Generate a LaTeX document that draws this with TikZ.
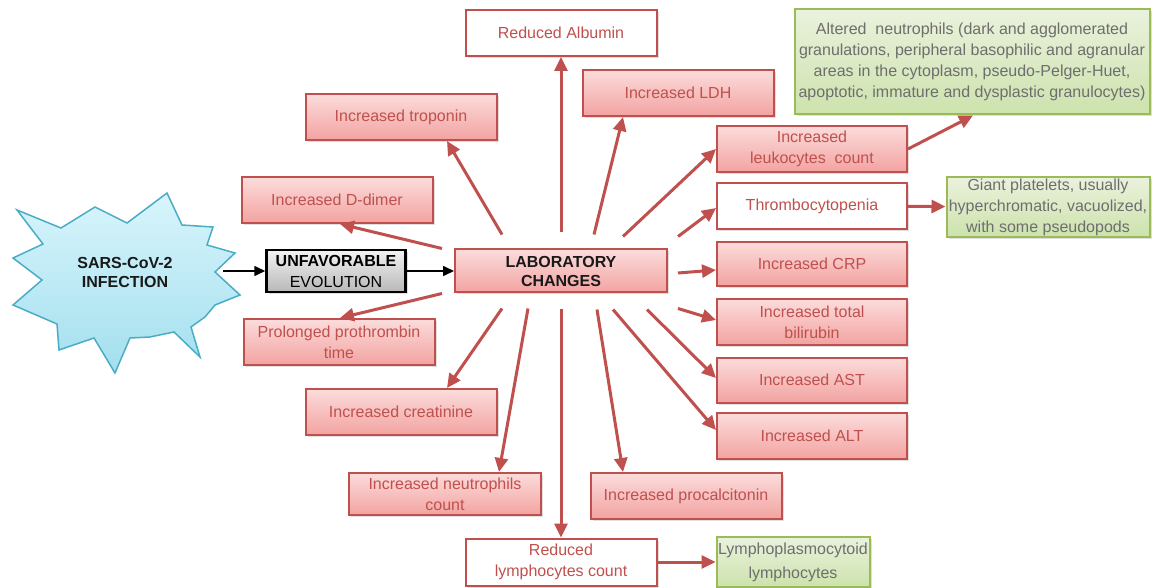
\documentclass[tikz,border=0pt]{standalone}
\usepackage{fontspec}
\setmainfont{Liberation Sans}
\usetikzlibrary{arrows.meta,shadows}
\definecolor{boxred}{HTML}{C0504D}
\definecolor{pinktop}{HTML}{FBDCDB}
\definecolor{pinkbot}{HTML}{F2A3A1}
\definecolor{greenline}{HTML}{9BBB59}
\definecolor{greentop}{HTML}{EAF2DD}
\definecolor{greenbot}{HTML}{CDE2AC}
\definecolor{greytext}{HTML}{6E6E6E}
\definecolor{skyline}{HTML}{4BACC6}
\definecolor{skytop}{HTML}{D8F5FC}
\definecolor{skybot}{HTML}{A3DFEE}

\begin{document}
\begin{tikzpicture}[x=1pt,y=1pt,
  every node/.style={font=\fontsize{16}{21}\selectfont, align=center, inner sep=1pt},
  finding/.style={draw=boxred, line width=2pt, top color=pinktop, bottom color=pinkbot,
    text=boxred, minimum width=191pt, minimum height=46pt,
    drop shadow={shadow xshift=2pt, shadow yshift=-2pt, opacity=0.25}},
  whitebox/.style={finding, top color=white, bottom color=white},
  smear/.style={draw=greenline, line width=2pt, top color=greentop, bottom color=greenbot,
    text=greytext, drop shadow={shadow xshift=2pt, shadow yshift=-2pt, opacity=0.25}},
  heavy/.style={font=\fontsize{16}{19}\selectfont\bfseries, text=black!90},
  link/.style={draw=boxred, line width=3pt, -{Triangle[length=14pt,width=13pt]}},
  flow/.style={draw=black, line width=1.6pt, -{Triangle[length=11pt,width=10pt]}}]
  \useasboundingbox (0,0) rectangle (1152,-588);
  % the infection burst
  \draw[draw=skyline, line width=1.5pt, top color=skytop, bottom color=skybot]
    (17,-210) -- (61,-228) -- (95,-207) -- (127,-223) -- (167,-193) -- (182,-225)
    -- (213,-227) -- (207,-245) -- (235,-253) -- (215,-272) -- (240,-295) -- (215,-305)
    -- (205,-317) -- (191,-327) -- (200,-357) -- (174,-332) -- (150,-337) -- (130,-338)
    -- (115,-373) -- (94,-338) -- (59,-350) -- (57,-324) -- (13,-305) -- (42,-280)
    -- (13,-258) -- (43,-244) -- cycle;
  \node[heavy] (sars) at (125,-272) {SARS-CoV-2\\INFECTION};
  \coordinate (burst) at (223,-271);
  \node[draw=black, line width=2.5pt, top color=white!95!black, bottom color=black!28,
    minimum width=139pt, minimum height=42pt,
    drop shadow={shadow xshift=2pt, shadow yshift=-2pt, opacity=0.25}] (unfav) at (336,-271)
    {{\bfseries UNFAVORABLE}\\EVOLUTION};
  \node[finding, heavy, minimum width=212pt, minimum height=43pt] (lab) at (561,-271)
    {LABORATORY\\CHANGES};
  % the findings
  \node[whitebox] (alb) at (561,-33) {Reduced Albumin};
  \node[finding] (ldh) at (678,-93) {Increased LDH};
  \node[finding] (trop) at (401,-117) {Increased troponin};
  \node[finding] (ddim) at (337,-200) {Increased D-dimer};
  \node[finding] (prol) at (339,-342) {Prolonged prothrombin\\time};
  \node[finding] (creat) at (401,-412) {Increased creatinine};
  \node[finding, minimum width=192pt, minimum height=42pt] (neut) at (445,-494)
    {Increased neutrophils\\count};
  \node[finding] (proc) at (686,-496) {Increased procalcitonin};
  \node[whitebox, minimum height=47pt] (redly) at (561,-562) {Reduced\\lymphocytes count};
  \node[finding, minimum width=190pt] (leuk) at (812,-149) {Increased\\leukocytes\ \ count};
  \node[whitebox, minimum width=190pt] (thromb) at (812,-206) {Thrombocytopenia};
  \node[finding, minimum width=190pt, minimum height=44pt] (crp) at (812,-264) {Increased CRP};
  \node[finding, minimum width=190pt] (bili) at (812,-322) {Increased total\\bilirubin};
  \node[finding, minimum width=190pt, minimum height=45pt] (ast) at (812,-380) {Increased AST};
  \node[finding, minimum width=190pt] (alt) at (812,-436) {Increased ALT};
  % the smear findings
  \node[smear, minimum width=355pt, minimum height=105pt] (altered) at (972,-62)
    {Altered\ \ neutrophils (dark and agglomerated\\granulations, peripheral basophilic and agranular\\areas in the cytoplasm, pseudo-Pelger-Huet,\\apoptotic, immature and dysplastic granulocytes)};
  \node[smear, minimum width=203pt, minimum height=60pt] (giant) at (1048,-207)
    {Giant platelets, usually\\hyperchromatic, vacuolized,\\with some pseudopods};
  \node[smear, minimum width=153pt, minimum height=50pt, font=\fontsize{16}{24}\selectfont] (lympho) at (793,-562)
    {Lymphoplasmocytoid\\lymphocytes};
  % Draw the flow
  \draw[flow] (burst) -- (unfav);
  \draw[flow] (unfav) -- (lab);
  \draw[link] ([yshift=16pt]lab.north) -- (alb);
  \draw[link] ([xshift=33pt,yshift=14pt]lab.north) -- ([xshift=-55pt]ldh.south);
  \draw[link] ([xshift=-59pt,yshift=14pt]lab.north) -- ([xshift=46pt]trop.south);
  \draw[link] ([xshift=-12pt]lab.north west) -- ([xshift=3pt]ddim.south);
  \draw[link] ([xshift=-12pt]lab.south west) -- ([xshift=1pt]prol.north);
  \draw[link] ([xshift=-59pt,yshift=-15pt]lab.south) -- ([xshift=46pt]creat.north);
  \draw[link] ([xshift=-33pt,yshift=-15pt]lab.south) -- ([xshift=54pt]neut.north);
  \draw[link] ([yshift=-16pt]lab.south) -- (redly);
  \draw[link] ([xshift=36pt,yshift=-16pt]lab.south) -- ([xshift=-63pt]proc.north);
  \draw[link] ([xshift=52pt,yshift=-16pt]lab.south) -- ([yshift=6pt]alt.west);
  \draw[link] ([xshift=86pt,yshift=-16pt]lab.south) -- ([yshift=2pt]ast.west);
  \draw[link] ([xshift=10pt,yshift=-15pt]lab.south east) -- ([yshift=2pt]bili.west);
  \draw[link] ([xshift=10pt,yshift=-2pt]lab.east) -- ([yshift=-6pt]crp.west);
  \draw[link] ([xshift=10pt,yshift=12pt]lab.north east) -- ([yshift=-2pt]thromb.west);
  \draw[link] ([xshift=62pt,yshift=12pt]lab.north) -- (leuk.west);
  \draw[link] (leuk.east) -- ([xshift=1pt]altered.south);
  \draw[link] (thromb) -- (giant);
  \draw[link] (redly) -- (lympho);
\end{tikzpicture}
\end{document}
